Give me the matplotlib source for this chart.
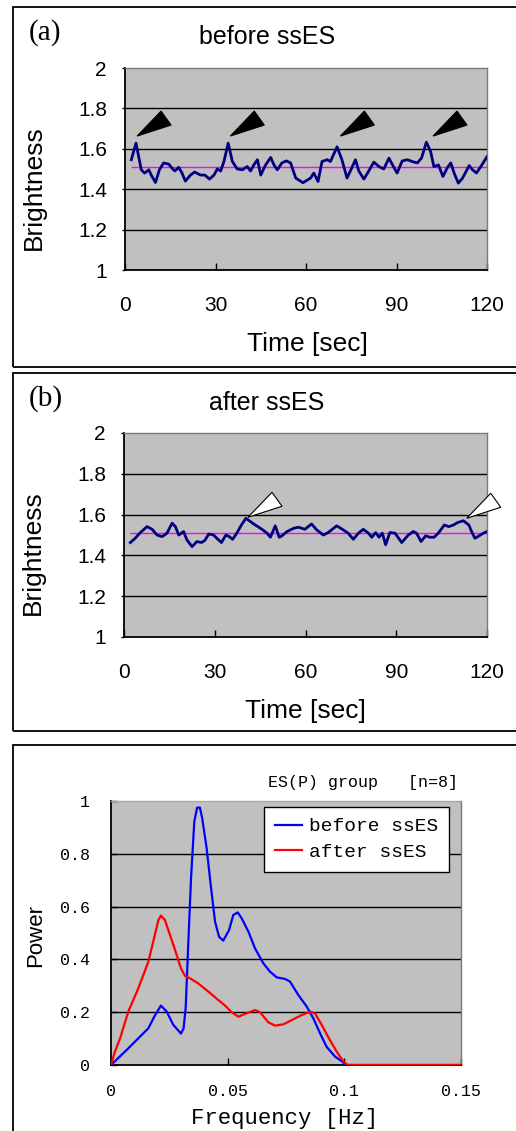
import matplotlib
matplotlib.use("Agg")
import matplotlib.pyplot as plt
import matplotlib.transforms as mtransforms
from matplotlib.patches import Rectangle, Polygon

# ---------------- data ----------------
time_a = [2.1, 3.65, 5.4, 6.5, 7.9, 8.7, 10.1, 11.4, 12.8, 14.5, 15.6, 16.5, 17.8, 18.9,
          20.0, 21.7, 23.1, 25.0, 26.5, 28.0, 29.5, 30.6, 31.7, 32.8, 34.2, 35.6, 37.2,
          38.9, 40.5, 41.6, 42.7, 43.9, 45.0, 46.6, 48.3, 49.4, 50.5, 52.0, 53.5, 54.9,
          56.6, 59.0, 61.5, 62.6, 64.0, 65.3, 67.0, 68.1, 70.3, 71.9, 73.6, 74.7, 76.4,
          77.5, 79.2, 80.8, 82.5, 84.2, 85.8, 87.5, 88.8, 90.2, 91.9, 93.6, 95.2, 96.9,
          98.3, 99.9, 101.3, 102.4, 103.9, 105.4, 106.9, 108.0, 109.1, 110.5, 111.9,
          114.1, 115.2, 116.5, 118.3, 120.0]
bright_a = [1.546, 1.628, 1.496, 1.480, 1.496, 1.470, 1.433, 1.496, 1.530, 1.524, 1.504,
            1.490, 1.508, 1.480, 1.440, 1.470, 1.485, 1.470, 1.470, 1.450, 1.470, 1.500,
            1.490, 1.537, 1.628, 1.537, 1.500, 1.496, 1.512, 1.490, 1.520, 1.546, 1.470,
            1.520, 1.557, 1.520, 1.496, 1.530, 1.540, 1.530, 1.455, 1.432, 1.455, 1.480,
            1.438, 1.537, 1.546, 1.537, 1.610, 1.546, 1.455, 1.490, 1.546, 1.490, 1.450,
            1.490, 1.534, 1.512, 1.500, 1.554, 1.517, 1.480, 1.540, 1.546, 1.537, 1.530,
            1.554, 1.633, 1.587, 1.512, 1.520, 1.463, 1.508, 1.530, 1.480, 1.430, 1.455,
            1.517, 1.496, 1.480, 1.520, 1.561]
mean_a = 1.508
arrows_a_time = [4.0, 34.9, 71.4, 102.1]
arrows_a_level = 1.663

time_b = [2.1, 3.7, 5.4, 7.6, 9.3, 10.9, 12.6, 14.2, 15.9, 17.0, 18.1, 19.0, 19.7, 20.8,
          22.5, 24.1, 25.6, 26.7, 28.0, 29.6, 30.7, 32.2, 33.7, 34.8, 35.9, 37.3, 38.8,
          40.3, 42.9, 45.6, 47.3, 48.4, 50.0, 51.3, 52.2, 53.9, 56.1, 57.7, 59.8, 62.0,
          63.7, 65.9, 67.5, 70.3, 72.5, 74.1, 75.8, 77.5, 79.1, 80.8, 81.9, 83.2, 84.3,
          85.4, 86.5, 87.9, 89.6, 91.8, 94.0, 95.6, 96.7, 98.2, 99.7, 101.1, 102.5,
          103.9, 105.9, 107.4, 108.9, 110.3, 112.2, 114.0, 114.9, 116.0, 117.4, 118.8,
          120.0]
bright_b = [1.463, 1.484, 1.512, 1.541, 1.528, 1.500, 1.492, 1.509, 1.558, 1.541, 1.500,
            1.509, 1.517, 1.476, 1.443, 1.468, 1.463, 1.473, 1.505, 1.500, 1.484, 1.463,
            1.500, 1.492, 1.479, 1.509, 1.549, 1.582, 1.554, 1.528, 1.509, 1.489, 1.545,
            1.489, 1.496, 1.517, 1.533, 1.538, 1.528, 1.554, 1.525, 1.500, 1.512, 1.545,
            1.525, 1.509, 1.479, 1.509, 1.528, 1.509, 1.489, 1.512, 1.489, 1.509, 1.452,
            1.512, 1.509, 1.463, 1.500, 1.517, 1.509, 1.468, 1.496, 1.489, 1.489, 1.509,
            1.549, 1.541, 1.549, 1.561, 1.570, 1.549, 1.517, 1.484, 1.496, 1.509, 1.517]
mean_b = 1.508
arrows_b_time = [41.0, 113.3]
arrows_b_level = [1.587, 1.582]

time_ticks = [0, 30, 60, 90, 120]
time_ticklabels = ["0", "30", "60", "90", "120"]
bright_ticks = [1.0, 1.2, 1.4, 1.6, 1.8, 2.0]
bright_ticklabels = ["1", "1.2", "1.4", "1.6", "1.8", "2"]

freq_before = [0.0, 0.0074, 0.0117, 0.016, 0.0189, 0.0214, 0.0239, 0.0267, 0.030, 0.0311,
               0.032, 0.0331, 0.0343, 0.0357, 0.0369, 0.0381, 0.0391, 0.041, 0.0429,
               0.0446, 0.0463, 0.0481, 0.0506, 0.0524, 0.0543, 0.056, 0.0589, 0.0617,
               0.0653, 0.0681, 0.071, 0.0746, 0.0767, 0.0803, 0.0839, 0.0867, 0.0896,
               0.0924, 0.096, 0.0991, 0.1006, 0.15]
power_before = [0.0, 0.063, 0.101, 0.139, 0.189, 0.225, 0.202, 0.152, 0.119, 0.139, 0.215,
                0.455, 0.707, 0.922, 0.975, 0.975, 0.934, 0.821, 0.669, 0.543, 0.486,
                0.471, 0.511, 0.568, 0.578, 0.556, 0.505, 0.442, 0.385, 0.354, 0.332,
                0.326, 0.316, 0.265, 0.221, 0.177, 0.120, 0.069, 0.032, 0.013, 0.0, 0.0]
freq_after = [0.0, 0.0017, 0.0039, 0.0074, 0.0117, 0.016, 0.0181, 0.0203, 0.0214, 0.0231,
              0.0253, 0.0277, 0.030, 0.0317, 0.0339, 0.0374, 0.0417, 0.046, 0.0489, 0.0517,
              0.0546, 0.0581, 0.0617, 0.0639, 0.0674, 0.0703, 0.0739, 0.0774, 0.0817,
              0.0853, 0.0874, 0.0903, 0.0934, 0.0967, 0.0996, 0.1014, 0.15]
power_after = [0.0, 0.051, 0.101, 0.202, 0.290, 0.391, 0.467, 0.549, 0.566, 0.549, 0.492,
               0.429, 0.366, 0.338, 0.328, 0.309, 0.278, 0.246, 0.225, 0.200, 0.183, 0.196,
               0.208, 0.200, 0.162, 0.149, 0.154, 0.170, 0.189, 0.202, 0.196, 0.152, 0.101,
               0.051, 0.013, 0.0, 0.0]
freq_ticks = [0, 0.05, 0.1, 0.15]
freq_ticklabels = ["0", "0.05", "0.1", "0.15"]
power_ticks = [0, 0.2, 0.4, 0.6, 0.8, 1.0]
power_ticklabels = ["0", "0.2", "0.4", "0.6", "0.8", "1"]
series_labels = ["before ssES", "after ssES"]

# ---------------- figure ----------------
W, H = 516, 1131
fig = plt.figure(figsize=(W / 100, H / 100), dpi=100)
plt.rcParams['font.family'] = ['Liberation Sans', 'DejaVu Sans']
SANS = ['Liberation Sans', 'DejaVu Sans']
SERIF = ['Liberation Serif', 'DejaVu Serif']
MONO = ['Liberation Mono', 'DejaVu Sans Mono']


def fx(px):
    return px / W


def fy(py):
    return 1 - py / H


def add_axes_px(left, top, right, bottom):
    return fig.add_axes([fx(left), fy(bottom), (right - left) / W, (bottom - top) / H])


def frame_box(left, top, right, bottom):
    fig.add_artist(Rectangle((fx(left), fy(bottom)), (right - left) / W, (bottom - top) / H,
                             transform=fig.transFigure, fill=False, ec='black', lw=1.3,
                             clip_on=False))


def style_plot(ax):
    ax.set_facecolor('#C0C0C0')
    ax.set_axisbelow(True)
    for s in ['top', 'right']:
        ax.spines[s].set_color('#7a7a7a')
        ax.spines[s].set_linewidth(1.0)
    for s in ['left', 'bottom']:
        ax.spines[s].set_color('black')
        ax.spines[s].set_linewidth(1.3)
    ax.grid(axis='y', color='black', lw=1.0)
    ax.grid(axis='x', visible=False)
    gl = ax.yaxis.get_gridlines()
    gl[0].set_visible(False)
    gl[-1].set_visible(False)


def add_arrow(ax, t, v, face):
    # triangle in inches, anchored at the data point (t, v)
    verts = [(0, 0), (24 / 100, 25 / 100), (34 / 100, 11 / 100)]
    trans = fig.dpi_scale_trans + mtransforms.ScaledTranslation(t, v, ax.transData)
    ax.add_patch(Polygon(verts, closed=True, transform=trans, facecolor=face,
                         edgecolor='black', lw=0.8, clip_on=False, zorder=5))


def time_panel(ax, t, b, mean, title, x_title, y_title, xl, yl, letter, letter_xy):
    ax.plot(t, b, color='#000080', lw=2.0, solid_joinstyle='round', zorder=3)
    ax.hlines(mean, t[0], 120, color='#FF00FF', lw=1.0, zorder=2)
    ax.set_xlim(0, 120)
    ax.set_ylim(1, 2)
    ax.set_xticks(time_ticks)
    ax.set_xticklabels(time_ticklabels)
    ax.set_yticks(bright_ticks)
    ax.set_yticklabels(bright_ticklabels)
    style_plot(ax)
    ax.tick_params(axis='x', direction='in', length=5, width=1, pad=19, labelsize=15)
    ax.tick_params(axis='y', direction='out', length=2, width=1, pad=11, labelsize=15)
    ax.set_xlabel("Time [sec]", fontsize=19)
    ax.xaxis.set_label_coords(*xl)
    ax.xaxis.label.set_va('center')
    ax.set_ylabel("Brightness", fontsize=19)
    ax.yaxis.set_label_coords(*yl)
    ax.yaxis.label.set_va('center')
    ax.text(x_title, y_title, title, transform=ax.transAxes, ha='center', va='center',
            fontsize=18)
    fig.text(fx(letter_xy[0]), fy(letter_xy[1]), letter, family=SERIF, fontsize=21,
             ha='center', va='center')


# (a)
frame_box(13, 7, 540, 367)
ax_a = add_axes_px(125, 68, 487, 270)
time_panel(ax_a, time_a, bright_a, mean_a, "before ssES", 0.392, 1.153,
           (0.503, -0.365), (-0.251, 0.406), "(a)", (45, 33))
for ta in arrows_a_time:
    add_arrow(ax_a, ta, arrows_a_level, 'black')

# (b)
frame_box(13, 373, 540, 731)
ax_b = add_axes_px(124, 433, 487, 637)
time_panel(ax_b, time_b, bright_b, mean_b, "after ssES", 0.394, 1.147,
           (0.501, -0.362), (-0.251, 0.412), "(b)", (46, 399))
for tb, vb in zip(arrows_b_time, arrows_b_level):
    add_arrow(ax_b, tb, vb, 'white')

# (c)
frame_box(13, 745, 540, 1160)
ax_c = add_axes_px(111, 801, 461, 1065)
ax_c.plot(freq_before, power_before, color='#0000FF', lw=1.6, label=series_labels[0],
          zorder=3)
ax_c.plot(freq_after, power_after, color='#FF0000', lw=1.6, label=series_labels[1],
          zorder=3)
ax_c.set_xlim(0, 0.15)
ax_c.set_ylim(0, 1)
ax_c.set_xticks(freq_ticks)
ax_c.set_xticklabels(freq_ticklabels, family=MONO)
ax_c.set_yticks(power_ticks)
ax_c.set_yticklabels(power_ticklabels, family=MONO)
style_plot(ax_c)
ax_c.spines['top'].set_color('#a8a8a8')
ax_c.tick_params(axis='x', direction='in', length=5, width=1, pad=14, labelsize=12)
ax_c.tick_params(axis='y', direction='in', length=4, width=1, pad=15, labelsize=12)
ax_c.set_xlabel("Frequency [Hz]", fontsize=16, family=MONO)
ax_c.xaxis.set_label_coords(0.497, -0.2045)
ax_c.xaxis.label.set_va('center')
ax_c.set_ylabel("Power", fontsize=16)
ax_c.yaxis.set_label_coords(-0.214, 0.492)
ax_c.yaxis.label.set_va('center')
leg = ax_c.legend(loc='upper left', bbox_to_anchor=(0.437, 0.977), borderaxespad=0,
                  prop={'family': MONO, 'size': 14}, frameon=True, fancybox=False,
                  handlelength=1.4, handletextpad=0.35, borderpad=0.55, labelspacing=0.42)
leg.get_frame().set_edgecolor('black')
leg.get_frame().set_linewidth(1.0)
leg.get_frame().set_facecolor('white')
leg.get_frame().set_alpha(1)
fig.text(fx(268), fy(782), "ES(P) group   [n=8]", family=MONO, fontsize=12,
         ha='left', va='center')

fig.savefig("out.png", dpi=100)
